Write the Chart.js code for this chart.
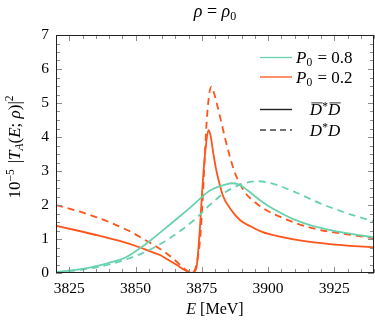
<!DOCTYPE html>
<html>
<head>
<meta charset="utf-8">
<script src="https://cdn.jsdelivr.net/npm/chart.js@4.4.1/dist/chart.umd.min.js"></script>
<style>
  html, body { margin: 0; padding: 0; background: #fff; }
  #wrap { width: 375px; height: 324px; }
</style>
</head>
<body>
<div id="wrap"><canvas id="chart" width="375" height="324"></canvas></div>
<script>
'use strict';

// E in MeV, |T_A|^2 in units of 10^-5
const E_p08_DbarD = [3820, 3830, 3840, 3846, 3851.7, 3855.5, 3861.8, 3868, 3872, 3878, 3884, 3886.5, 3889, 3892, 3896, 3900, 3904.5, 3910, 3917.1, 3929.7, 3940];
const T_p08_DbarD = [0.03, 0.12, 0.3, 0.45, 0.73, 0.95, 1.35, 1.75, 2.02, 2.42, 2.6, 2.64, 2.6, 2.45, 2.2, 1.98, 1.78, 1.57, 1.38, 1.17, 1.05];

const E_p08_DD = [3820, 3830, 3840, 3850, 3857, 3862, 3868, 3873, 3878, 3884, 3889.4, 3895.7, 3902, 3910.8, 3919.6, 3929.7, 3940];
const T_p08_DD = [0.02, 0.1, 0.25, 0.5, 0.75, 0.98, 1.3, 1.62, 2.0, 2.38, 2.59, 2.7, 2.62, 2.36, 2.05, 1.76, 1.51];

const E_p02_DbarD = [3820, 3828, 3836.6, 3845, 3851.7, 3855, 3859.2, 3862.5, 3865.5, 3868, 3870, 3871.2, 3872.2, 3873.1, 3874.3, 3875, 3875.6, 3876.5, 3877.5, 3878.3, 3879.4, 3880.3, 3881.3, 3883.1, 3885.7, 3889.4, 3893.2, 3898, 3904.5, 3912, 3923.4, 3940];
const T_p02_DbarD = [1.39, 1.25, 1.09, 0.92, 0.75, 0.65, 0.53, 0.38, 0.24, 0.11, 0.03, 0, 0.04, 0.2, 1.3, 2.2, 2.9, 3.7, 4.2, 4.05, 3.5, 3.1, 2.75, 2.25, 1.9, 1.56, 1.38, 1.2, 1.07, 0.96, 0.85, 0.75];

const E_p02_DD = [3820, 3830, 3840, 3848, 3853, 3857, 3862, 3866, 3868.5, 3870.5, 3871.5, 3873, 3874.5, 3875.5, 3876.2, 3876.9, 3877.8, 3878.7, 3879.6, 3880.8, 3882.5, 3884, 3885.7, 3887.5, 3889.4, 3892, 3894.5, 3898.2, 3905.8, 3917.1, 3929.7, 3940];
const T_p02_DD = [2.0, 1.78, 1.5, 1.22, 1.0, 0.82, 0.56, 0.3, 0.12, 0.02, 0, 0.25, 1.1, 2.4, 3.5, 4.5, 5.25, 5.48, 5.3, 4.95, 4.4, 3.9, 3.4, 2.95, 2.62, 2.3, 2.12, 1.9, 1.61, 1.31, 1.14, 1.02];

const X_MIN = 3820, X_MAX = 3940;
const Y_MIN = 0, Y_MAX = 7;

const TEAL = 'rgb(104, 210, 174)';
const ORANGE = 'rgb(255, 84, 26)';
const SERIF = "'Liberation Serif', 'DejaVu Serif', serif";
const DASH = [7, 5];

function toPoints(xs, ys) {
  return xs.map((x, i) => ({x: x, y: ys[i]}));
}

function font(p) {
  return (p.it ? 'italic ' : '') + (p.size || 16) + 'px ' + SERIF;
}

// draw a row of text pieces (sub/superscripts via size + dy)
function drawParts(ctx, parts, x, y, align) {
  let w = 0;
  parts.forEach(p => { ctx.font = font(p); p.w = ctx.measureText(p.t).width + (p.gap || 0); w += p.w; });
  let cx = align === 'center' ? x - w / 2 : (align === 'right' ? x - w : x);
  ctx.textAlign = 'left';
  ctx.textBaseline = 'alphabetic';
  parts.forEach(p => {
    ctx.font = font(p);
    ctx.fillText(p.t, cx, y + (p.dy || 0));
    if (p.over) {
      const tw = ctx.measureText(p.t).width;
      ctx.fillRect(cx + 1.5, y - 12.5, tw - 1, 0.8);
    }
    cx += p.w;
  });
  return w;
}

const framePlugin = {
  id: 'frame',
  afterDraw(chart) {
    const ctx = chart.ctx;
    const a = chart.chartArea;
    const xs = chart.scales.x, ys = chart.scales.y;
    ctx.save();

    // inward ticks on all four sides
    ctx.strokeStyle = '#8c8c8c';
    ctx.lineWidth = 1;
    ctx.beginPath();
    xs.ticks.forEach(t => {
      const px = Math.round(xs.getPixelForValue(t.value)) + 0.5;
      const len = t.value % 25 === 0 ? 6 : 4;
      ctx.moveTo(px, a.bottom); ctx.lineTo(px, a.bottom - len);
      ctx.moveTo(px, a.top); ctx.lineTo(px, a.top + len);
    });
    ys.ticks.forEach(t => {
      const py = Math.round(ys.getPixelForValue(t.value)) + 0.5;
      const len = Number.isInteger(t.value) ? 6 : 4;
      ctx.moveTo(a.left, py); ctx.lineTo(a.left + len, py);
      ctx.moveTo(a.right, py); ctx.lineTo(a.right - len, py);
    });
    ctx.stroke();

    // axis box
    ctx.strokeStyle = '#222';
    ctx.lineWidth = 1;
    ctx.strokeRect(a.left + 0.5, a.top + 0.5, a.right - a.left - 1, a.bottom - a.top - 1);

    ctx.fillStyle = '#000';
    const midX = (a.left + a.right) / 2;

    // title
    drawParts(ctx, [
      {t: 'ρ', it: true, size: 18},
      {t: ' = ', size: 18},
      {t: 'ρ', it: true, size: 18},
      {t: '0', size: 12, dy: 3}
    ], midX, 17, 'center');

    // x axis title
    drawParts(ctx, [
      {t: 'E', it: true},
      {t: ' [MeV]'}
    ], midX, 314, 'center');

    // y axis title, rotated
    ctx.save();
    ctx.translate(19.5, 147);
    ctx.rotate(-Math.PI / 2);
    drawParts(ctx, [
      {t: '10', size: 17},
      {t: '−5', size: 11.5, dy: -6, gap: 6},
      {t: '|', size: 17},
      {t: 'T', it: true, size: 17},
      {t: 'A', it: true, size: 11.5, dy: 3},
      {t: '(', size: 17},
      {t: 'E', it: true, size: 17},
      {t: '; ', size: 17},
      {t: 'ρ', it: true, size: 17},
      {t: ')|', size: 17},
      {t: '2', size: 11.5, dy: -7}
    ], 0, 0, 'center');
    ctx.restore();

    // legend
    const lx0 = 260, lx1 = 292;
    const rows = [
      {y: 57.5, color: TEAL, dash: [], width: 1.3},
      {y: 77, color: ORANGE, dash: [], width: 1.3},
      {y: 109.5, color: '#222', dash: [], width: 1.4},
      {y: 130, color: '#444', dash: [6, 4], width: 1.4}
    ];
    rows.forEach(r => {
      ctx.strokeStyle = r.color;
      ctx.lineWidth = r.width;
      ctx.setLineDash(r.dash);
      ctx.beginPath();
      ctx.moveTo(lx0, r.y); ctx.lineTo(lx1, r.y);
      ctx.stroke();
    });
    ctx.setLineDash([]);
    drawParts(ctx, [{t: 'P', it: true, size: 17}, {t: '0', size: 11.5, dy: 3, gap: 1}, {t: ' = 0.8', size: 17}], 296, 63, 'left');
    drawParts(ctx, [{t: 'P', it: true, size: 17}, {t: '0', size: 11.5, dy: 3, gap: 1}, {t: ' = 0.2', size: 17}], 296, 82.5, 'left');
    drawParts(ctx, [{t: 'D', it: true, size: 17, over: true}, {t: '*', size: 11.5, dy: -5}, {t: 'D', it: true, size: 17, over: true}], 325, 115, 'center');
    drawParts(ctx, [{t: 'D', it: true, size: 17}, {t: '*', size: 11.5, dy: -5}, {t: 'D', it: true, size: 17}], 325, 135.5, 'center');

    ctx.restore();
  }
};

const line = (xs, ys, color, dashed) => ({
  data: toPoints(xs, ys),
  borderColor: color,
  borderWidth: 1.8,
  borderDash: dashed ? DASH : [],
  pointRadius: 0,
  fill: false,
  cubicInterpolationMode: 'monotone'
});

new Chart(document.getElementById('chart'), {
  type: 'line',
  data: {
    datasets: [
      line(E_p08_DD, T_p08_DD, TEAL, true),
      line(E_p08_DbarD, T_p08_DbarD, TEAL, false),
      line(E_p02_DD, T_p02_DD, ORANGE, true),
      line(E_p02_DbarD, T_p02_DbarD, ORANGE, false)
    ]
  },
  options: {
    responsive: false,
    animation: false,
    devicePixelRatio: 1,
    layout: {padding: {top: 35, right: 1, left: 0, bottom: 0}},
    plugins: {legend: {display: false}, title: {display: false}, tooltip: {enabled: false}},
    scales: {
      x: {
        type: 'linear',
        min: X_MIN, max: X_MAX,
        afterFit: s => { s.height = 51; s.paddingLeft = 0; s.paddingRight = 0; },
        grid: {display: false, drawTicks: false},
        border: {display: false},
        ticks: {
          stepSize: 5, autoSkip: false, maxRotation: 0, padding: 7,
          color: '#000', font: {family: SERIF, size: 15.5},
          callback: v => (v % 25 === 0 ? String(v) : '')
        }
      },
      y: {
        min: Y_MIN, max: Y_MAX,
        afterFit: s => { s.width = 56; s.paddingTop = 0; s.paddingBottom = 0; },
        grid: {display: false, drawTicks: false},
        border: {display: false},
        ticks: {
          stepSize: 0.25, autoSkip: false, padding: 7,
          color: '#000', font: {family: SERIF, size: 15.5},
          callback: v => (Number.isInteger(v) ? String(v) : '')
        }
      }
    }
  },
  plugins: [framePlugin]
});
</script>
</body>
</html>
